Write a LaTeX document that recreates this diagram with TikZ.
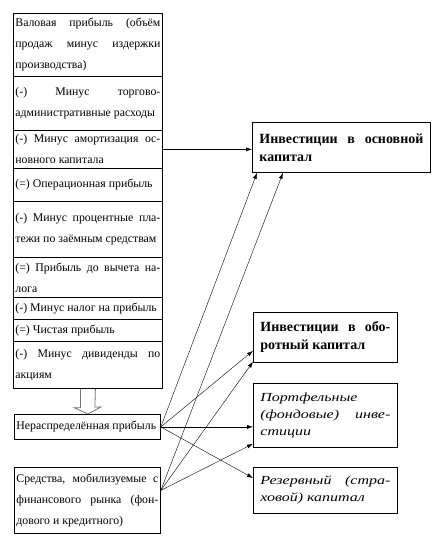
\documentclass[tikz,border=0pt]{standalone}
\usepackage{fontspec}
\setmainfont{Liberation Serif}
\newfontfamily\wideit{Liberation Serif}[FakeStretch=1.3]
\usetikzlibrary{arrows.meta}
\newcommand{\jl}[1]{\makebox[\hsize][s]{\spaceskip=.25em plus 10em minus .1em\relax #1}}

\begin{document}
\begin{tikzpicture}[x=1pt,y=1pt,>={Latex[length=6pt,width=4pt]},
  row/.style={draw,line width=0.8pt,anchor=north west,text width=145pt,inner xsep=2pt,inner ysep=0pt,align=justify,font=\fontsize{11.8}{21}\selectfont},
  goal/.style={draw,line width=0.8pt,anchor=north west,inner xsep=7pt,inner ysep=0pt,align=justify},
  fixbox/.style={goal,font=\fontsize{14}{18}\selectfont\bfseries},
  finbox/.style={goal,font=\wideit\fontsize{12.3}{17}\selectfont\itshape},
  hollow/.style={draw=black!55,line width=0.8pt}]
\useasboundingbox (0,0) rectangle (442,-540);
\foreach \nm/\y/\h/\txt in {r1/13/63/{\jl{Валовая прибыль (объём}\\\jl{продаж минус издержки}\\производства)},
  r2/76/54/{\jl{(-) Минус торгово-}\\административные расходы}, r3/130/38/{\jl{(-) Минус амортизация ос-}\\новного капитала},
  r4/168/33/{(=) Операционная прибыль}, r5/201/56/{\jl{(-) Минус процентные пла-}\\тежи по заёмным средствам},
  r6/257/40/{\jl{(=) Прибыль до вычета на-}\\лога}, r7/297/22/{(-) Минус налог на прибыль}, r8/319/22/{(=) Чистая прибыль},
  r9/341/47/{\jl{(-) Минус дивиденды по}\\акциям}}
  { \node[row,minimum height=\h pt] (\nm) at (13,-\y) {\txt}; }
\node[row,text width=142pt,minimum height=25pt] (neraspr) at (14,-414) {Нераспределённая прибыль};
\node[row,text width=142pt,minimum height=66pt] (mobil) at (14,-467) {\jl{Средства, мобилизуемые с}\\\jl{финансового рынка (фон-}\\дового и кредитного)};
\node[fixbox,text width=164pt,minimum height=50pt] (inA) at (252,-122) {\jl{Инвестиции в основной}\\капитал};
\node[fixbox,text width=130pt,minimum height=50pt] (inB) at (253,-312) {\jl{Инвестиции в обо-}\\ротный капитал};
\node[finbox,text width=130pt,minimum height=64pt] (inC) at (253,-383) {Портфельные\\\jl{(фондовые) инве-}\\стиции};
\node[finbox,text width=130pt,minimum height=46pt] (inD) at (253,-467) {\jl{Резервный (стра-}\\ховой) капитал};
\coordinate (mobout) at ([yshift=10pt]mobil.east);
\draw[hollow] ([xshift=-7.5pt]r9.south) -- ++(0,-19) -- ++(-6,0) -- (r9.south |- neraspr.north) -- ++(13,7) -- ++(-6,0) -- ([xshift=7.5pt]r9.south);
\draw[->] (r3.east) -- (r3.east -| inA.west);
\draw[->] (neraspr.east) -- ([xshift=5pt]inA.south west); \draw[->] (neraspr.east) -- ([yshift=12pt]inB.south west);
\draw[->] (neraspr.east) -- (neraspr.east -| inC.west); \draw[->] (neraspr.east) -- ([yshift=-11pt]inD.north west);
\draw[->] (mobout) -- ([xshift=31pt]inA.south west); \draw[->] (mobout) -- ([yshift=1pt]inB.south west);
\draw[->] (mobout) -- ([yshift=4pt]inC.south west);
\end{tikzpicture}
\end{document}
